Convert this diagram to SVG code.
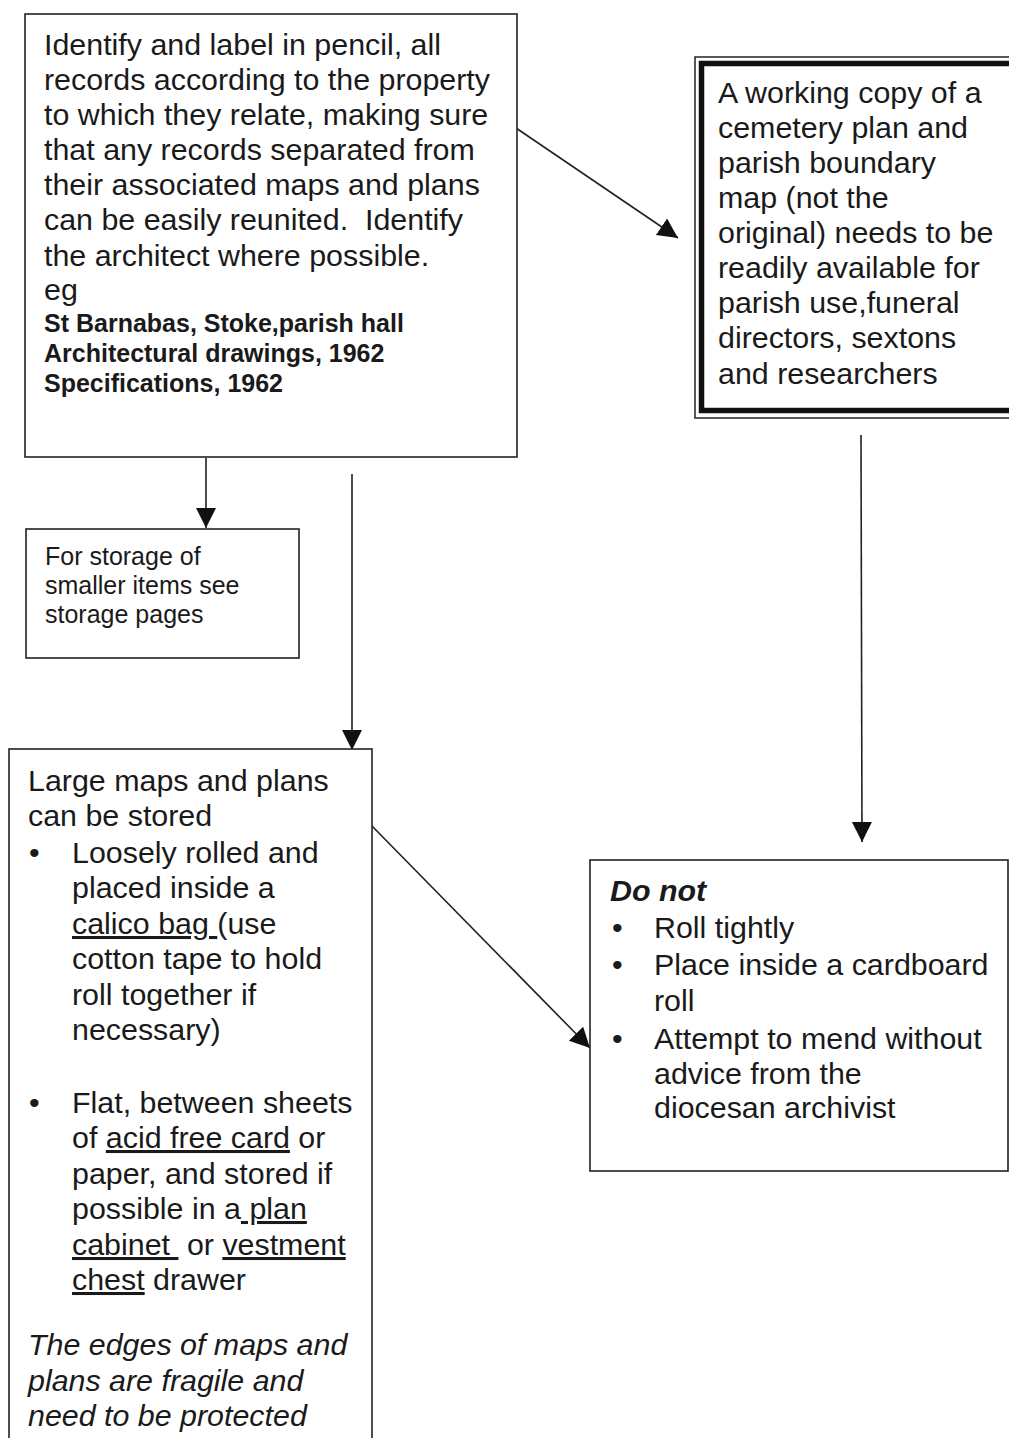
<svg xmlns="http://www.w3.org/2000/svg" width="1009" height="1438" viewBox="0 0 1009 1438">
  <defs>
    <marker id="head" markerUnits="userSpaceOnUse" markerWidth="22" markerHeight="22" refX="20" refY="10" orient="auto">
      <path d="M0,0 L20,10 L0,20 Z" fill="#111"/>
    </marker>
    <style>
      .box { fill: #fff; stroke: #222; stroke-width: 1.6; }
      .t { font-family: "Liberation Sans", Arial, sans-serif; font-size: 30.4px; fill: #1a1a1a; }
      .s { font-family: "Liberation Sans", Arial, sans-serif; font-size: 25px; fill: #1a1a1a; }
      .b { font-weight: bold; }
      .i { font-style: italic; }
      .u { text-decoration: underline; }
      .edge { stroke: #222; stroke-width: 1.6; fill: none; marker-end: url(#head); }
    </style>
  </defs>
  <rect width="1009" height="1438" fill="#fff"/>

  <g id="connectors">
    <line class="edge" x1="516" y1="128" x2="678" y2="238"/>
    <line class="edge" x1="206" y1="458" x2="206" y2="528"/>
    <line class="edge" x1="352" y1="474" x2="352" y2="750"/>
    <line class="edge" x1="861" y1="435" x2="862" y2="842"/>
    <line class="edge" x1="372" y1="826" x2="590" y2="1048"/>
  </g>

  <g id="label-records">
    <rect class="box" x="25" y="14" width="492" height="443"/>
    <text class="t" x="44" y="55">Identify and label in pencil, all</text>
    <text class="t" x="44" y="90">records according to the property</text>
    <text class="t" x="44" y="125">to which they relate, making sure</text>
    <text class="t" x="44" y="160">that any records separated from</text>
    <text class="t" x="44" y="195">their associated maps and plans</text>
    <text class="t" x="44" y="230" xml:space="preserve">can be easily reunited.  Identify</text>
    <text class="t" x="44" y="266">the architect where possible.</text>
    <text class="t" x="44" y="300">eg</text>
    <text class="s b" x="44" y="332">St Barnabas, Stoke,parish hall</text>
    <text class="s b" x="44" y="362">Architectural drawings, 1962</text>
    <text class="s b" x="44" y="392">Specifications, 1962</text>
  </g>

  <g id="working-copy">
    <rect x="695" y="57" width="330" height="361" fill="#fff" stroke="#222" stroke-width="1.5"/>
    <rect x="701.5" y="63.5" width="320" height="347" fill="none" stroke="#111" stroke-width="5.5"/>
    <text class="t" x="718" y="103">A working copy of a</text>
    <text class="t" x="718" y="138">cemetery plan and</text>
    <text class="t" x="718" y="173">parish boundary</text>
    <text class="t" x="718" y="208">map (not the</text>
    <text class="t" x="718" y="243">original) needs to be</text>
    <text class="t" x="718" y="278">readily available for</text>
    <text class="t" x="718" y="313">parish use,funeral</text>
    <text class="t" x="718" y="348">directors, sextons</text>
    <text class="t" x="718" y="384">and researchers</text>
  </g>

  <g id="smaller-items">
    <rect class="box" x="26" y="529" width="273" height="129"/>
    <text class="s" x="45" y="565">For storage of</text>
    <text class="s" x="45" y="594">smaller items see</text>
    <text class="s" x="45" y="623">storage pages</text>
  </g>

  <g id="large-maps">
    <rect class="box" x="9" y="749" width="363" height="700"/>
    <text class="t" x="28" y="791">Large maps and plans</text>
    <text class="t" x="28" y="826">can be stored</text>
    <text class="t" x="29" y="863">•</text>
    <text class="t" x="72" y="863">Loosely rolled and</text>
    <text class="t" x="72" y="898">placed inside a</text>
    <text class="t" x="72" y="934" xml:space="preserve"><tspan class="u">calico bag </tspan>(use</text>
    <text class="t" x="72" y="969">cotton tape to hold</text>
    <text class="t" x="72" y="1005">roll together if</text>
    <text class="t" x="72" y="1040">necessary)</text>
    <text class="t" x="29" y="1113">•</text>
    <text class="t" x="72" y="1113">Flat, between sheets</text>
    <text class="t" x="72" y="1148" xml:space="preserve">of <tspan class="u">acid free card</tspan> or</text>
    <text class="t" x="72" y="1184">paper, and stored if</text>
    <text class="t" x="72" y="1219" xml:space="preserve">possible in a<tspan class="u"> plan</tspan></text>
    <text class="t" x="72" y="1255" xml:space="preserve"><tspan class="u">cabinet </tspan> or <tspan class="u">vestment</tspan></text>
    <text class="t" x="72" y="1290" xml:space="preserve"><tspan class="u">chest</tspan> drawer</text>
    <text class="t i" x="28" y="1355">The edges of maps and</text>
    <text class="t i" x="28" y="1391">plans are fragile and</text>
    <text class="t i" x="28" y="1426">need to be protected</text>
  </g>

  <g id="do-not">
    <rect class="box" x="590" y="860" width="418" height="311"/>
    <text class="t b i" x="610" y="901">Do not</text>
    <text class="t" x="612" y="938">•</text>
    <text class="t" x="654" y="938">Roll tightly</text>
    <text class="t" x="612" y="975">•</text>
    <text class="t" x="654" y="975">Place inside a cardboard</text>
    <text class="t" x="654" y="1011">roll</text>
    <text class="t" x="612" y="1049">•</text>
    <text class="t" x="654" y="1049">Attempt to mend without</text>
    <text class="t" x="654" y="1084">advice from the</text>
    <text class="t" x="654" y="1118">diocesan archivist</text>
  </g>
</svg>
